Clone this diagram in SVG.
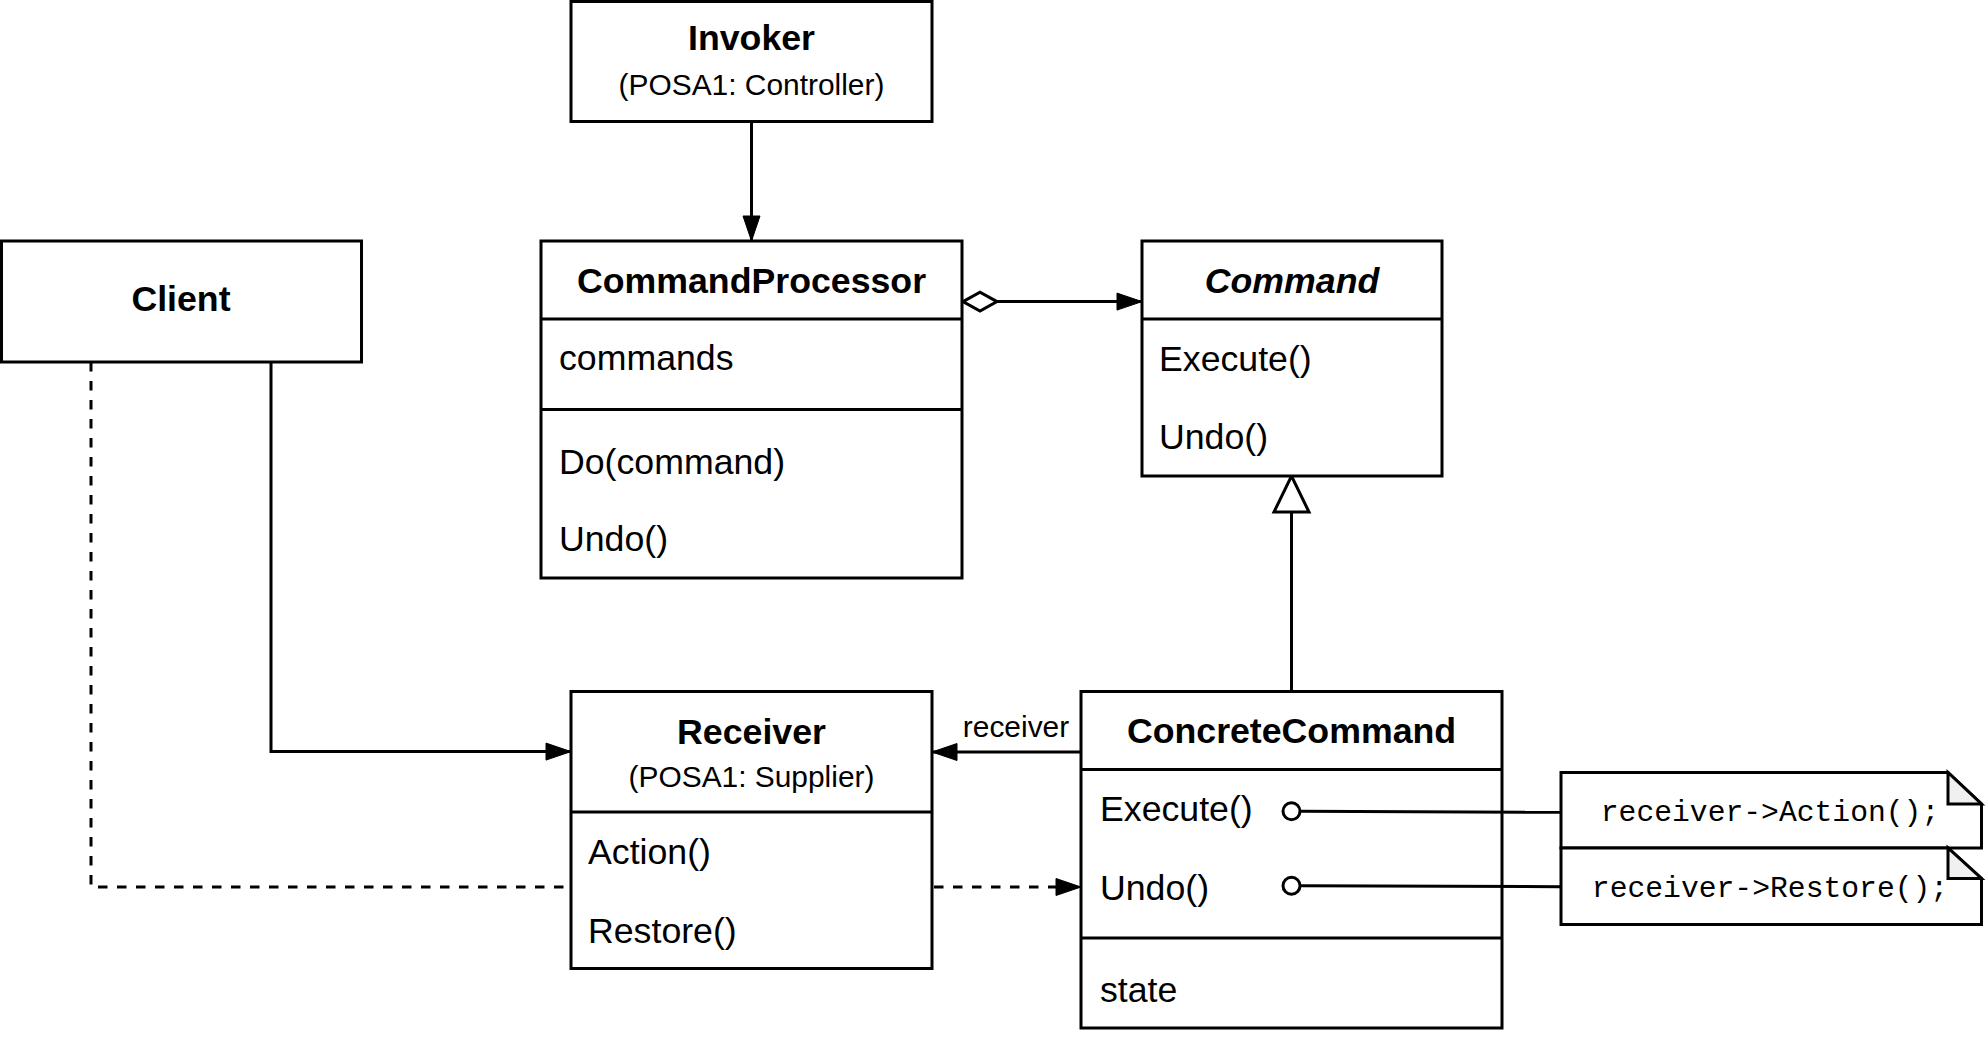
<svg xmlns="http://www.w3.org/2000/svg" width="1986" height="1038" viewBox="0 0 1986 1038">
<style>
.box{fill:#fff;stroke:#000;stroke-width:3}
.div{stroke:#000;stroke-width:3}
.ln{fill:none;stroke:#000;stroke-width:3}
.dash{stroke-dasharray:9.5 9.5}
.t{font-family:"Liberation Sans",Arial,sans-serif;font-size:35.7px;fill:#000}
.b{font-weight:bold}
.s{font-family:"Liberation Sans",Arial,sans-serif;font-size:29.9px;fill:#000}
.m{font-family:"Liberation Mono","Courier New",monospace;font-size:29.7px;fill:#000}
.c{text-anchor:middle}
.fold{fill:#f0f0f0;stroke:#000;stroke-width:3}
</style>
<defs>
<marker id="arr" markerUnits="userSpaceOnUse" markerWidth="27" markerHeight="20" viewBox="0 0 27 20" refX="26" refY="10" orient="auto">
<path d="M1,1.5 L26,10 L1,18.5 Z" fill="#000" stroke="#000" stroke-width="1"/>
</marker>
<marker id="dia" markerUnits="userSpaceOnUse" markerWidth="40" markerHeight="26" viewBox="0 0 40 26" refX="2" refY="13" orient="auto">
<path d="M2,13 L19,3.5 L36,13 L19,22.5 Z" fill="#fff" stroke="#000" stroke-width="3"/>
</marker>
<marker id="gen" markerUnits="userSpaceOnUse" markerWidth="42" markerHeight="42" viewBox="0 0 42 42" refX="39" refY="21" orient="auto">
<path d="M3,3.5 L39,21 L3,38.5 Z" fill="#fff" stroke="#000" stroke-width="3"/>
</marker>
</defs>

<g id="connectors">
<path class="ln dash" d="M91 362 L91 887 L1081 887" marker-end="url(#arr)"/>
<path class="ln" d="M271 362 L271 751.6 L571 751.6" marker-end="url(#arr)"/>
<path class="ln" d="M751.5 122 L751.5 241" marker-end="url(#arr)"/>
<path class="ln" d="M963 301.6 L1142 301.6" marker-start="url(#dia)" marker-end="url(#arr)"/>
<path class="ln" d="M1291.5 691.5 L1291.5 476" marker-end="url(#gen)"/>
<path class="ln" d="M1081 752 L932 752" marker-end="url(#arr)"/>
<text class="s" x="1016" y="737.3" text-anchor="middle">receiver</text>
</g>

<g id="invoker">
<rect class="box" x="571" y="1.5" width="361" height="120"/>
<text class="t b c" x="751.5" y="50">Invoker</text>
<text class="s c" x="751.5" y="95">(POSA1: Controller)</text>
</g>

<g id="client">
<rect class="box" x="1.5" y="241" width="360" height="121"/>
<text class="t b c" x="181" y="311">Client</text>
</g>

<g id="commandprocessor">
<rect class="box" x="541" y="241" width="421" height="337"/>
<line class="div" x1="541" y1="319" x2="962" y2="319"/>
<line class="div" x1="541" y1="409.5" x2="962" y2="409.5"/>
<text class="t b c" x="751.5" y="293">CommandProcessor</text>
<text class="t" x="559" y="370">commands</text>
<text class="t" x="559" y="474">Do(command)</text>
<text class="t" x="559" y="551">Undo()</text>
</g>

<g id="command">
<rect class="box" x="1142" y="241" width="300" height="235"/>
<line class="div" x1="1142" y1="319" x2="1442" y2="319"/>
<text class="t b c" x="1292" y="293" font-style="italic">Command</text>
<text class="t" x="1159" y="371">Execute()</text>
<text class="t" x="1159" y="448.5">Undo()</text>
</g>

<g id="receiver">
<rect class="box" x="571" y="691.5" width="361" height="277"/>
<line class="div" x1="571" y1="812" x2="932" y2="812"/>
<text class="t b c" x="751.5" y="744">Receiver</text>
<text class="s c" x="751.5" y="787.4">(POSA1: Supplier)</text>
<text class="t" x="588" y="864.3">Action()</text>
<text class="t" x="588" y="943">Restore()</text>
</g>

<g id="concretecommand">
<rect class="box" x="1081" y="691.5" width="421" height="336.5"/>
<line class="div" x1="1081" y1="769.5" x2="1502" y2="769.5"/>
<line class="div" x1="1081" y1="938" x2="1502" y2="938"/>
<text class="t b c" x="1291.5" y="743.3">ConcreteCommand</text>
<text class="t" x="1100" y="821">Execute()</text>
<text class="t" x="1100" y="899.5">Undo()</text>
<text class="t" x="1100" y="1001.5">state</text>
</g>

<g id="note-links">
<line class="ln" x1="1300" y1="811.3" x2="1561" y2="812.3"/>
<line class="ln" x1="1300" y1="885.7" x2="1561" y2="886.7"/>
<circle cx="1291.5" cy="811.3" r="8.5" fill="#fff" stroke="#000" stroke-width="3"/>
<circle cx="1291.5" cy="885.7" r="8.5" fill="#fff" stroke="#000" stroke-width="3"/>
</g>

<g id="note-action">
<path class="box" d="M1561 772.5 L1948 772.5 L1981.5 804 L1981.5 848 L1561 848 Z"/>
<path class="fold" d="M1948 772.5 L1948 804 L1981.5 804 Z"/>
<text class="m c" x="1770" y="821">receiver-&gt;Action();</text>
</g>

<g id="note-restore">
<path class="box" d="M1561 848 L1948 848 L1981.5 878.5 L1981.5 924.5 L1561 924.5 Z"/>
<path class="fold" d="M1948 848 L1948 878.5 L1981.5 878.5 Z"/>
<text class="m c" x="1770" y="896.5">receiver-&gt;Restore();</text>
</g>
</svg>
